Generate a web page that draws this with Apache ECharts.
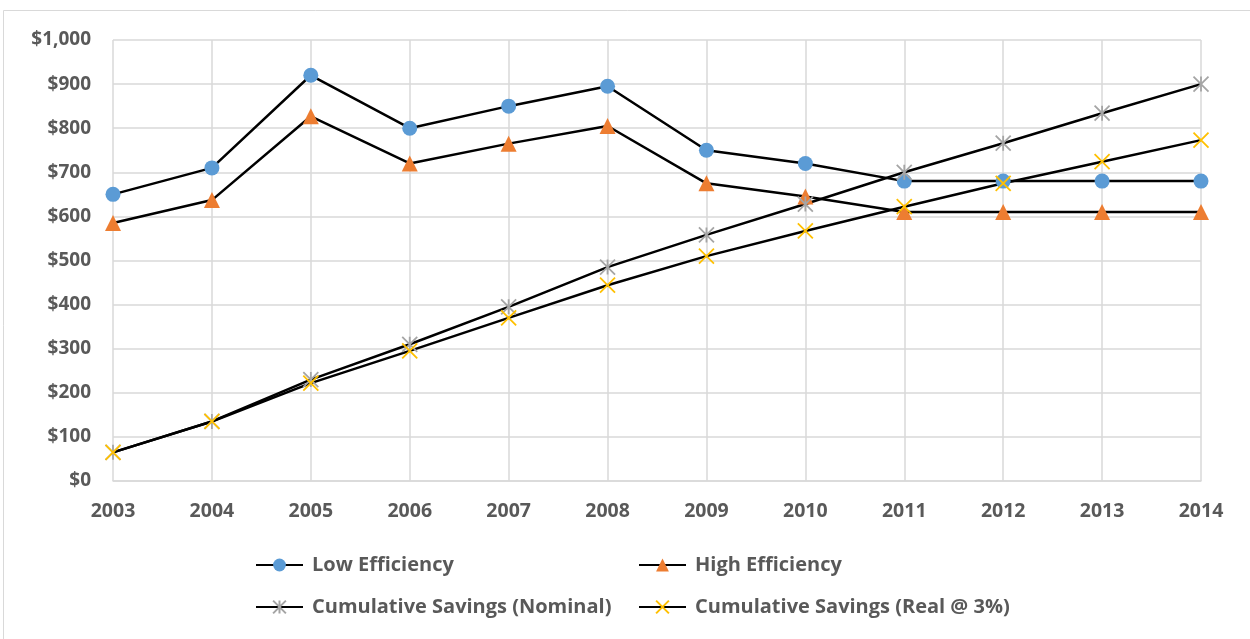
<!DOCTYPE html>
<html>
<head>
<meta charset="utf-8">
<script src="https://cdn.jsdelivr.net/npm/echarts@6/dist/echarts.min.js"></script>
<style>
  html, body { margin: 0; padding: 0; background: #fff; }
  #chart { width: 1250px; height: 639px; }
</style>
</head>
<body>
<div id="chart"></div>
<script>
// 数据
const years = ['2003', '2004', '2005', '2006', '2007', '2008', '2009', '2010', '2011', '2012', '2013', '2014']
const lowEfficiency = [650, 710, 920, 800, 850, 895, 750, 720, 680, 680, 680, 680]
const highEfficiency = [585, 637, 827, 720, 765, 805, 675, 645, 610, 610, 610, 610]
const savingsNominal = [65, 135, 230, 310, 395, 485, 558, 628, 700, 766, 834, 900]
const savingsReal = [65, 135, 222, 295, 370, 444, 510, 567, 622, 675, 724, 773]

const FONT = 'Open Sans'
const TEXT_COLOR = '#595959'
const GRID_COLOR = '#d9d9d9'

const starPath = 'path://M0,0L10,10M10,0L0,10M5,0L5,10'
const crossPath = 'path://M0,0L10,10M10,0L0,10'

const chart = echarts.init(document.getElementById('chart'))

const lineSeries = (name, data, symbol, size, color, stroke) => ({
  name: name,
  type: 'line',
  data: data,
  symbol: symbol,
  symbolSize: size,
  lineStyle: { color: '#000', width: 2.5 },
  itemStyle: stroke
    ? { color: 'none', borderColor: color, borderWidth: 1.8 }
    : { color: color, borderWidth: 0 },
  emphasis: { disabled: true },
  animation: false,
})

const legendBase = {
  orient: 'vertical',
  itemWidth: 47,
  itemHeight: 16,
  itemGap: 22,
  textStyle: { fontFamily: FONT, fontWeight: 'bold', fontSize: 20, color: TEXT_COLOR, padding: [0, 0, 0, 4] },
  selectedMode: false,
}

chart.setOption({
  backgroundColor: '#fff',
  graphic: [
    {
      type: 'rect',
      shape: { x: 3.5, y: 10.5, width: 1260, height: 640 },
      style: { fill: 'none', stroke: GRID_COLOR, lineWidth: 1 },
      silent: true,
    },
  ],
  grid: { left: 113, right: 49, top: 40, bottom: 158 },
  legend: [
    Object.assign({}, legendBase, { left: 250, top: 550, data: ['Low Efficiency', 'Cumulative Savings (Nominal)'] }),
    Object.assign({}, legendBase, { left: 633, top: 550, data: ['High Efficiency', 'Cumulative Savings (Real @ 3%)'] }),
  ],
  xAxis: {
    type: 'category',
    data: years,
    boundaryGap: false,
    axisLine: { lineStyle: { color: GRID_COLOR, width: 1.5 } },
    axisTick: { show: false },
    splitLine: { show: true, lineStyle: { color: GRID_COLOR, width: 1.5 } },
    axisLabel: { fontFamily: FONT, fontWeight: 'bold', fontSize: 19.5, color: TEXT_COLOR, margin: 20 },
  },
  yAxis: {
    type: 'value',
    min: 0,
    max: 1000,
    interval: 100,
    axisLine: { show: false },
    axisTick: { show: false },
    splitLine: { lineStyle: { color: GRID_COLOR, width: 1.5 } },
    axisLabel: {
      fontFamily: FONT, fontWeight: 'bold', fontSize: 19, color: TEXT_COLOR, margin: 22,
      formatter: (v) => '$' + v.toLocaleString('en-US'),
    },
  },
  series: [
    lineSeries('Low Efficiency', lowEfficiency, 'circle', 15, '#5b9bd5', false),
    lineSeries('High Efficiency', highEfficiency, 'triangle', 16, '#ed7d31', false),
    lineSeries('Cumulative Savings (Nominal)', savingsNominal, starPath, 15, '#a5a5a5', true),
    lineSeries('Cumulative Savings (Real @ 3%)', savingsReal, crossPath, 15, '#ffc000', true),
  ],
})
</script>
</body>
</html>
